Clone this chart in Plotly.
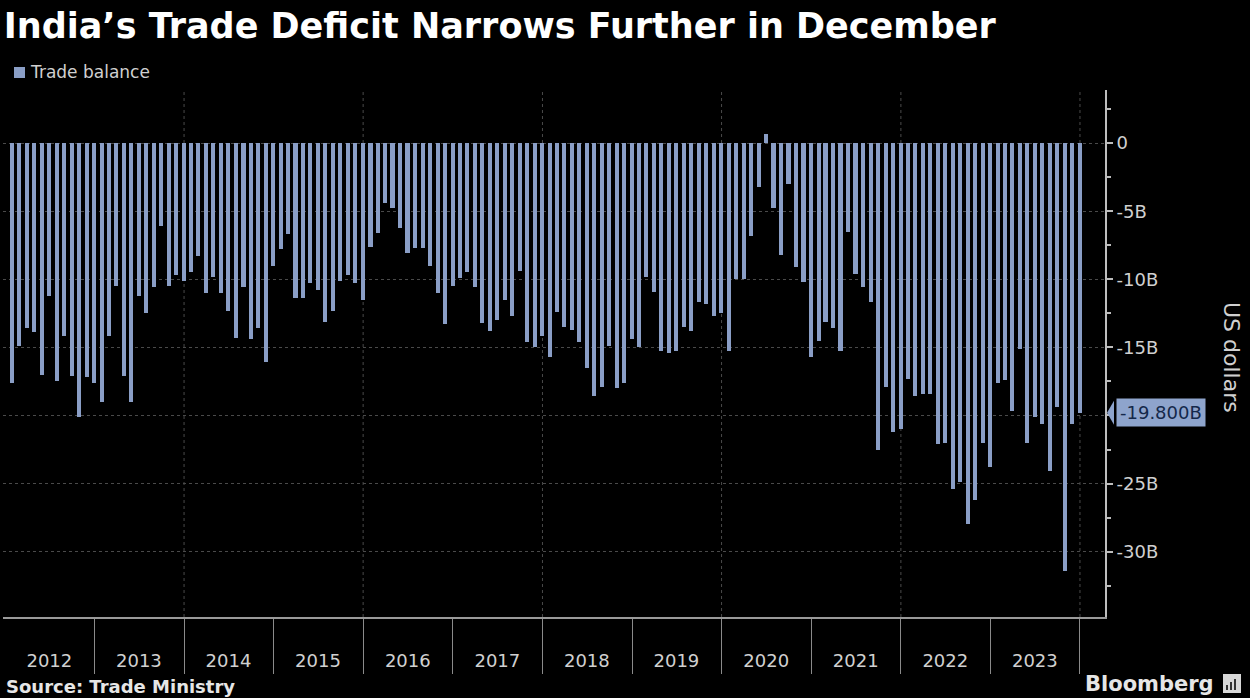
import pandas as pd
import plotly.graph_objects as go

# ---------------- data (US$ billions, monthly trade balance) ----------------
years = list(range(2012, 2024))
bal_2012 = [-17.6, -14.9, -13.6, -13.9, -17.0, -11.2, -17.5, -14.2, -17.1, -20.1, -17.2, -17.6]
bal_2013 = [-19.0, -14.2, -10.5, -17.1, -19.0, -11.2, -12.5, -10.6, -6.1, -10.5, -9.7, -10.1]
bal_2014 = [-9.5, -8.3, -11.0, -9.8, -11.0, -12.3, -14.3, -10.6, -14.4, -13.6, -16.1, -9.0]
bal_2015 = [-7.8, -6.7, -11.4, -11.4, -10.3, -10.8, -13.1, -12.3, -10.1, -9.7, -10.3, -11.5]
bal_2016 = [-7.6, -6.6, -4.4, -4.8, -6.2, -8.1, -7.7, -7.7, -9.0, -11.0, -13.3, -10.5]
bal_2017 = [-9.9, -9.5, -10.6, -13.2, -13.8, -13.0, -11.5, -12.7, -9.4, -14.6, -15.0, -14.2]
bal_2018 = [-15.7, -12.4, -13.5, -13.7, -14.6, -16.5, -18.6, -17.9, -14.9, -18.0, -17.6, -14.4]
bal_2019 = [-15.0, -9.8, -10.9, -15.3, -15.4, -15.3, -13.5, -13.8, -11.7, -11.8, -12.7, -12.5]
bal_2020 = [-15.3, -10.0, -10.0, -6.8, -3.2, 0.7, -4.8, -8.2, -3.0, -9.1, -10.2, -15.7]
bal_2021 = [-14.5, -13.1, -13.6, -15.3, -6.5, -9.6, -10.6, -11.7, -22.5, -17.9, -21.2, -21.0]
bal_2022 = [-17.3, -18.6, -18.4, -18.4, -22.1, -22.0, -25.4, -24.9, -28.0, -26.2, -22.0, -23.8]
bal_2023 = [-17.6, -17.4, -19.7, -15.1, -22.0, -20.1, -20.6, -24.1, -19.4, -31.4, -20.6, -19.8]

balance = (bal_2012 + bal_2013 + bal_2014 + bal_2015 + bal_2016 + bal_2017 +
           bal_2018 + bal_2019 + bal_2020 + bal_2021 + bal_2022 + bal_2023)
months = pd.date_range("2012-01-31", periods=len(balance), freq="ME")

ytick_vals = [0, -5, -10, -15, -20, -25, -30]
ytick_text = ["0", "-5B", "-10B", "-15B", "", "-25B", "-30B"]
series_name = "Trade balance"
last_value = balance[-1]

# ---------------- styling ----------------
BG = "#000000"
BAR = "#8a9ec6"
TXT = "#d0d0d0"
FONT = "DejaVu Sans"

PLOT_L, PLOT_R, PLOT_T, PLOT_B = 3, 1105, 90, 617
PW = PLOT_R - PLOT_L
PH = PLOT_B - PLOT_T


def px_x(px):
    return (px - PLOT_L) / PW


def px_y(py):
    return (PLOT_B - py) / PH


fig = go.Figure()
fig.add_trace(go.Bar(
    x=months, y=balance, name=series_name,
    marker=dict(color=BAR, line=dict(width=0)),
    width=17 * 24 * 3600 * 1000,
    showlegend=False,
))

shapes = []
# vertical dotted gridlines every two years
for yr in range(2014, 2025, 2):
    shapes.append(dict(type="line", xref="x", yref="paper",
                       x0=f"{yr}-01-01", x1=f"{yr}-01-01", y0=0, y1=1,
                       line=dict(color="#4a4a4a", width=1, dash="dot"), layer="below"))
# legend swatch
shapes.append(dict(type="rect", xref="paper", yref="paper",
                   x0=px_x(14), x1px=None, x1=px_x(25), y0=px_y(78), y1=px_y(67),
                   fillcolor=BAR, line=dict(width=0)) if False else
              dict(type="rect", xref="paper", yref="paper",
                   x0=px_x(14), x1=px_x(25), y0=px_y(78), y1=px_y(67),
                   fillcolor=BAR, line=dict(width=0)))
# callout arrow for the last value
shapes.append(dict(type="path", xref="paper", yref="y", xsizemode="pixel", ysizemode="pixel",
                   xanchor=1, yanchor=last_value,
                   path="M 2 0 L 9 12 L 9 -12 Z",
                   fillcolor="#8ea4cc", line=dict(width=0)))
# Bloomberg icon
shapes.append(dict(type="rect", xref="paper", yref="paper",
                   x0=px_x(1223), x1=px_x(1241), y0=px_y(693), y1=px_y(674),
                   fillcolor="#d8d8d8", line=dict(width=0)))
for i, h in enumerate([5, 8, 11]):
    shapes.append(dict(type="rect", xref="paper", yref="paper",
                       x0=px_x(1226 + i * 4), x1=px_x(1228 + i * 4),
                       y0=px_y(690), y1=px_y(690 - h),
                       fillcolor="#333333", line=dict(width=0)))

annotations = [
    dict(text=series_name, xref="paper", yref="paper", x=px_x(28), y=px_y(72),
         xanchor="left", yanchor="middle", showarrow=False,
         font=dict(family=FONT, size=17, color=TXT)),
    dict(text=f"{last_value:.3f}B", xref="paper", yref="y", x=1, y=last_value,
         xanchor="left", yanchor="middle", xshift=11, showarrow=False,
         font=dict(family=FONT, size=18, color="#14284a"),
         bgcolor="#8ea4cc", borderpad=3),
    dict(text="US dollars", xref="paper", yref="paper", x=px_x(1232), y=px_y(357),
         textangle=90, showarrow=False, xanchor="center", yanchor="middle",
         font=dict(family=FONT, size=22, color=TXT)),
    dict(text="<b>Source: Trade Ministry</b>", xref="paper", yref="paper",
         x=px_x(4), y=px_y(686), xanchor="left", yanchor="middle", showarrow=False,
         font=dict(family=FONT, size=18, color="#e6e6e6")),
    dict(text="<b>Bloomberg</b>", xref="paper", yref="paper",
         x=px_x(1216), y=px_y(684), xanchor="right", yanchor="middle", showarrow=False,
         font=dict(family=FONT, size=21, color="#e6e6e6")),
]

fig.update_layout(
    width=1250, height=698,
    paper_bgcolor=BG, plot_bgcolor=BG,
    margin=dict(l=PLOT_L, r=1250 - PLOT_R, t=PLOT_T, b=698 - PLOT_B),
    font=dict(family=FONT, color=TXT),
    title=dict(text="<b>India’s Trade Deficit Narrows Further in December</b>",
               xref="container", yref="container", x=0.003, y=1 - 26 / 698,
               xanchor="left", yanchor="middle",
               font=dict(family=FONT, size=35, color="#ffffff")),
    showlegend=False,
    bargap=0,
    shapes=shapes,
    annotations=annotations,
)

fig.update_xaxes(
    type="date",
    range=["2011-12-25", "2024-04-12"],
    showgrid=False, zeroline=False,
    showline=True, linecolor="#9a9a9a", linewidth=2,
    tickvals=[f"{y}-07-01" for y in years],
    ticktext=[str(y) for y in years],
    ticks="", ticklabelstandoff=26,
    tickfont=dict(family=FONT, size=18, color=TXT),
    minor=dict(tickvals=[f"{y}-01-01" for y in range(2013, 2025)],
               ticks="outside", ticklen=55, tickcolor="#8a8a8a", tickwidth=1,
               showgrid=False),
)

fig.update_yaxes(
    side="right",
    range=[-34.8, 3.9],
    tickvals=ytick_vals, ticktext=ytick_text,
    showgrid=True, gridcolor="#4a4a4a", griddash="dot", gridwidth=1,
    zeroline=False,
    showline=True, linecolor="#bdbdbd", linewidth=2,
    ticks="outside", ticklen=6, tickcolor="#bdbdbd", tickwidth=2,
    tickfont=dict(family=FONT, size=18, color=TXT),
    minor=dict(dtick=2.5, ticks="outside", ticklen=4, tickcolor="#bdbdbd", showgrid=False),
)

fig.write_html("out.html")
